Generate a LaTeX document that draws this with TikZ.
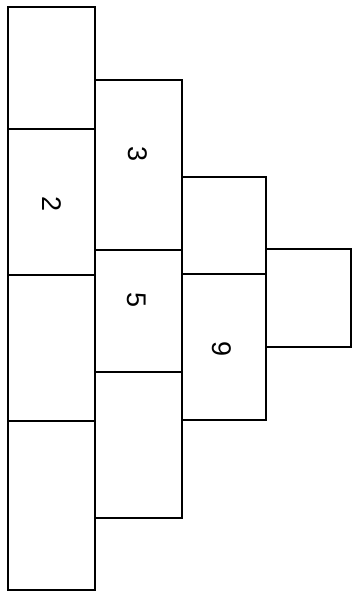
\documentclass[tikz,border=0pt]{standalone}
\usepackage{fontspec}
\setmainfont{Liberation Sans}
\begin{document}
\begin{tikzpicture}[x=1pt,y=1pt,
  cell/.style={draw=black, line width=1.3pt, anchor=north west, inner sep=0pt, outer sep=0pt},
  num/.style={rotate=-90, inner sep=0pt, font=\fontsize{27}{27}\selectfont}]
\useasboundingbox (0,0) rectangle (354,-592);
% column 1
\node[cell, minimum width=87, minimum height=122] (a1) at (8,-7) {};
\node[cell, minimum width=87, minimum height=146] (a2) at (8,-129) {};
\node[cell, minimum width=87, minimum height=146] (a3) at (8,-275) {};
\node[cell, minimum width=87, minimum height=169] (a4) at (8,-421) {};
% column 2
\node[cell, minimum width=87, minimum height=170] (b1) at (95,-80) {};
\node[cell, minimum width=87, minimum height=122] (b2) at (95,-250) {};
\node[cell, minimum width=87, minimum height=146] (b3) at (95,-372) {};
% column 3
\node[cell, minimum width=84, minimum height=97] (c1) at (182,-177) {};
\node[cell, minimum width=84, minimum height=146] (c2) at (182,-274) {};
% column 4
\node[cell, minimum width=85, minimum height=98] (d1) at (266,-249) {};
% numbers
\node[num] (n2) at (52,-204) {2};
\node[num] (n3) at (138,-154) {3};
\node[num] (n5) at (137,-300) {5};
\node[num] (n9) at (222,-349) {9};
\end{tikzpicture}
\end{document}
